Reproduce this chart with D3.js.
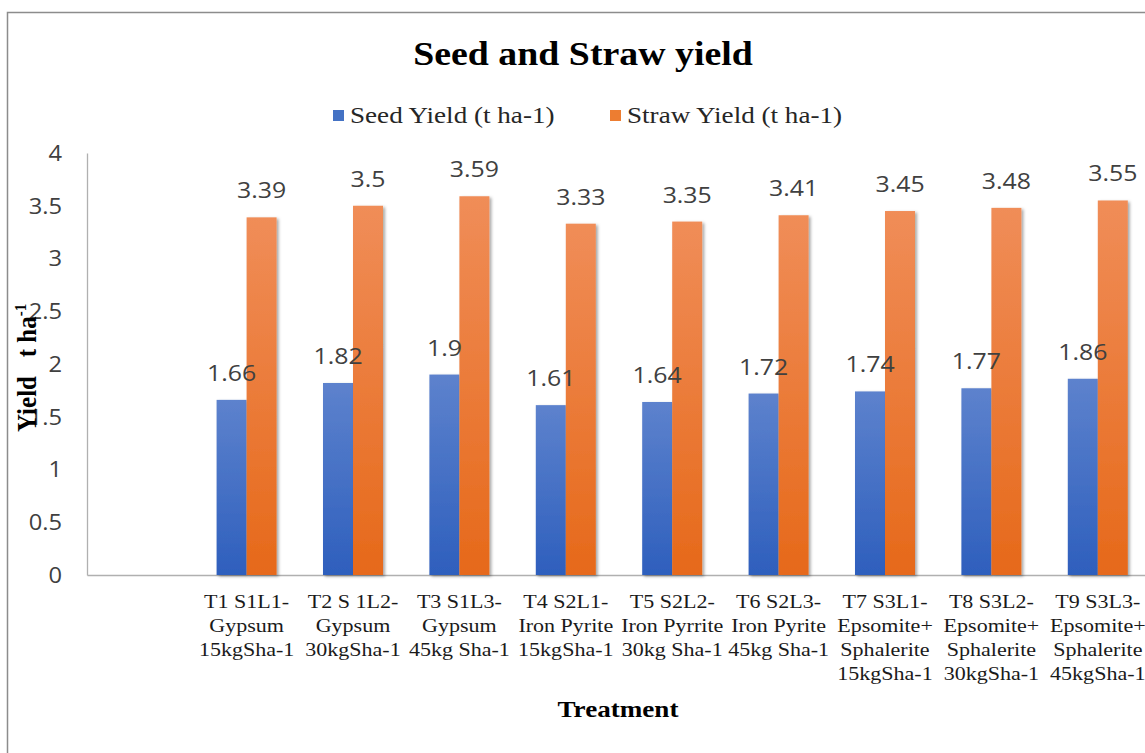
<!DOCTYPE html>
<html>
<head>
<meta charset="utf-8">
<script src="https://cdn.jsdelivr.net/npm/d3@7"></script>
<style>
  body { margin: 0; background: #fff; }
  svg { display: block; }
</style>
</head>
<body>
<div id="chart"></div>
<script>
// chart data
const categories = ['', 'T1', 'T2', 'T3', 'T4', 'T5', 'T6', 'T7', 'T8', 'T9'];
const categoryLines = [
  [],
  ['T1 S1L1-', 'Gypsum', '15kgSha-1'],
  ['T2 S 1L2-', 'Gypsum', '30kgSha-1'],
  ['T3 S1L3-', 'Gypsum', '45kg Sha-1'],
  ['T4 S2L1-', 'Iron Pyrite', '15kgSha-1'],
  ['T5 S2L2-', 'Iron Pyrrite', '30kg Sha-1'],
  ['T6 S2L3-', 'Iron Pyrite', '45kg Sha-1'],
  ['T7 S3L1-', 'Epsomite+', 'Sphalerite', '15kgSha-1'],
  ['T8 S3L2-', 'Epsomite+', 'Sphalerite', '30kgSha-1'],
  ['T9 S3L3-', 'Epsomite+', 'Sphalerite', '45kgSha-1']
];
const seriesNames = ['Seed Yield (t ha-1)', 'Straw Yield (t ha-1)'];
const seedYield = [null, 1.66, 1.82, 1.9, 1.61, 1.64, 1.72, 1.74, 1.77, 1.86];
const strawYield = [null, 3.39, 3.5, 3.59, 3.33, 3.35, 3.41, 3.45, 3.48, 3.55];
const yTicks = [0, 0.5, 1, 1.5, 2, 2.5, 3, 3.5, 4];

const W = 1145, H = 753, M = { t: 153, r: -6, b: 178, l: 87 };
const SX = 1.13; // source picture is stretched horizontally
const SERIF = '"Liberation Serif", "Times New Roman", serif';
const SANS = '"Open Sans", "Liberation Sans", sans-serif';

const svg = d3.select('#chart').append('svg').attr('width', W).attr('height', H);
const defs = svg.append('defs');

function grad(id, top, bottom) {
  const g = defs.append('linearGradient').attr('id', id).attr('x1', 0).attr('y1', 0).attr('x2', 0).attr('y2', 1);
  g.append('stop').attr('offset', '0%').attr('stop-color', top);
  g.append('stop').attr('offset', '100%').attr('stop-color', bottom);
}
grad('gSeed', '#5d82cd', '#2e5fbd');
grad('gStraw', '#f08d58', '#e6691a');
const f = defs.append('filter').attr('id', 'shadow').attr('x', '-20%').attr('y', '-5%').attr('width', '150%').attr('height', '115%');
f.append('feDropShadow').attr('dx', 2).attr('dy', 1.5).attr('stdDeviation', 1.6).attr('flood-color', '#000').attr('flood-opacity', 0.35);

const stretch = (x, y, rot) => `translate(${x},${y}) scale(${SX},1)` + (rot ? ` rotate(${rot})` : '');

// border
svg.append('rect').attr('x', 7.5).attr('y', 12.5).attr('width', 1300).attr('height', 900)
  .attr('fill', 'none').attr('stroke', '#8c8c8c').attr('stroke-width', 1.5);

const band = 106.4;
const x = d3.scaleBand().domain(categories).range([M.l, M.l + band * categories.length]).padding(0);
const x1 = d3.scaleBand().domain(seriesNames).range([0, x.bandwidth()]).paddingInner(0).paddingOuter(0.773);
const y = d3.scaleLinear().domain([0, 4]).range([H - M.b, M.t]);

// axes
const yAx = svg.append('g').attr('transform', `translate(${M.l},0)`)
  .call(d3.axisLeft(y).tickValues(yTicks).tickSize(0).tickSizeOuter(0).tickPadding(0).tickFormat(d3.format('')));
yAx.select('.domain').attr('stroke', '#b0b0b0').attr('stroke-width', 1.3);
yAx.selectAll('text').attr('x', null).attr('dy', '0.35em')
  .attr('transform', `translate(-25,0) scale(${SX},1)`)
  .attr('font-family', SANS).attr('font-size', 21).attr('fill', '#404040');

const xAx = svg.append('g').attr('transform', `translate(0,${H - M.b})`)
  .call(d3.axisBottom(x).tickSize(0).tickSizeOuter(0).tickFormat(''));
xAx.select('.domain').attr('stroke', '#b0b0b0').attr('stroke-width', 1.3);

// bars
const rows = categories.map((c, i) => ({ c, vals: [
  { s: seriesNames[0], v: seedYield[i], fill: 'url(#gSeed)' },
  { s: seriesNames[1], v: strawYield[i], fill: 'url(#gStraw)' }
] })).filter(d => d.vals[0].v !== null);

const grp = svg.selectAll('g.cat').data(rows).enter().append('g')
  .attr('class', 'cat').attr('transform', d => `translate(${x(d.c)},0)`);

grp.selectAll('rect').data(d => d.vals).enter().append('rect')
  .attr('x', d => x1(d.s)).attr('width', x1.bandwidth())
  .attr('y', d => y(d.v)).attr('height', d => y(0) - y(d.v))
  .attr('fill', d => d.fill).attr('filter', 'url(#shadow)');

grp.selectAll('text.lbl').data(d => d.vals).enter().append('text')
  .attr('class', 'lbl')
  .attr('transform', d => stretch(x1(d.s) + x1.bandwidth() / 2, y(d.v) - 19))
  .attr('text-anchor', 'middle').attr('font-family', SANS).attr('font-size', 22).attr('fill', '#404040')
  .text(d => d.v);

// category labels
categories.forEach((c, i) => {
  const t = svg.append('text').attr('transform', stretch(x(c) + x.bandwidth() / 2, 608))
    .attr('text-anchor', 'middle').attr('font-family', SERIF).attr('font-size', 19.5).attr('fill', '#1a1a1a');
  categoryLines[i].forEach((ln, j) => {
    t.append('tspan').attr('x', 0).attr('y', j * 24).text(ln);
  });
});

// title, axis titles
svg.append('text').attr('transform', stretch(583, 65)).attr('text-anchor', 'middle')
  .attr('font-family', SERIF).attr('font-weight', 'bold').attr('font-size', 33.5).attr('fill', '#000')
  .text('Seed and Straw yield');

svg.append('text').attr('transform', stretch(618, 717)).attr('text-anchor', 'middle')
  .attr('font-family', SERIF).attr('font-weight', 'bold').attr('font-size', 24).attr('fill', '#000')
  .text('Treatment');

const yt = svg.append('text').attr('transform', stretch(36, 432, -90)).attr('text-anchor', 'start')
  .attr('font-family', SERIF).attr('font-weight', 'bold').attr('font-size', 25).attr('fill', '#000');
yt.append('tspan').text('Yield\u00a0\u00a0\u00a0t ha');
yt.append('tspan').attr('font-size', 15).attr('dy', -9).text('-1');

// legend
const legX = [333, 610];
const legColors = ['#4472c4', '#ed7d31'];
seriesNames.forEach((s, i) => {
  svg.append('rect').attr('x', legX[i]).attr('y', 110).attr('width', 11).attr('height', 11).attr('fill', legColors[i]);
  svg.append('text').attr('transform', stretch(legX[i] + 17, 123))
    .attr('font-family', SERIF).attr('font-size', 24).attr('fill', '#262626').text(s);
});
</script>
</body>
</html>
